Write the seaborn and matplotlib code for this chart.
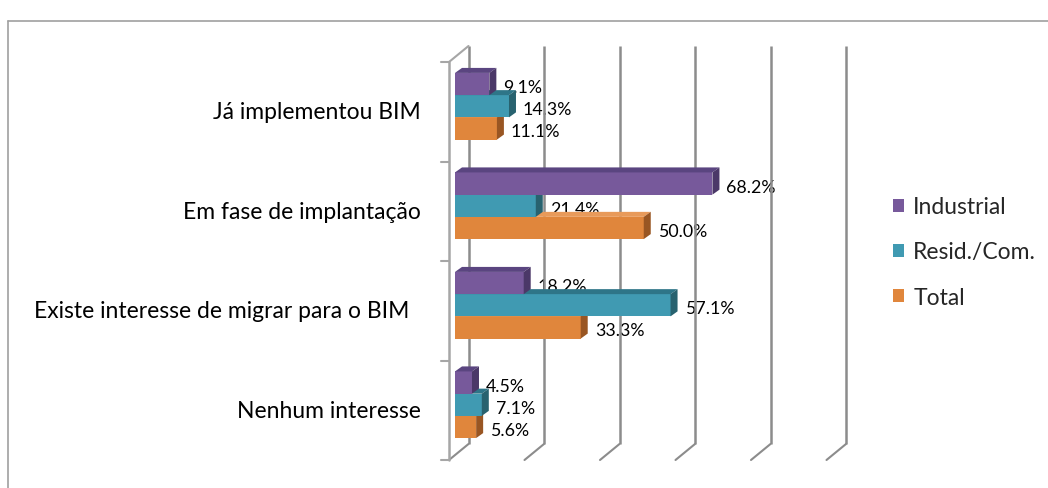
import numpy as np
import pandas as pd
import matplotlib
matplotlib.use("Agg")
import matplotlib.pyplot as plt
import seaborn as sns
from matplotlib.patches import Polygon, Patch
from matplotlib.lines import Line2D
from matplotlib import transforms

# ---- data -------------------------------------------------------------
categories = ["Já implementou BIM", "Em fase de implantação",
              "Existe interesse de migrar para o BIM", "Nenhum interesse"]
series = ["Industrial", "Resid./Com.", "Total"]
industrial = [9.1, 68.2, 18.2, 4.5]
resid_com = [14.3, 21.4, 57.1, 7.1]
total = [11.1, 50.0, 33.3, 5.6]
grid_ticks = [0, 20, 40, 60, 80, 100]

# ---- styling ----------------------------------------------------------
front_colors = ["#77599B", "#409AB2", "#E0863C"]
top_colors = ["#5A4580", "#2E7588", "#E89A5A"]
side_colors = ["#4B3868", "#28626F", "#995623"]
grid_color = "#8C8C8C"
wall_color = "#A6A6A6"

df = pd.DataFrame({
    "categoria": categories * len(series),
    "serie": np.repeat(series, len(categories)),
    "valor": industrial + resid_com + total,
})

sns.set_theme(style="white")
plt.rcParams["font.family"] = ["Lato", "DejaVu Sans"]

W, H = 1048, 489
fig = plt.figure(figsize=(W / 100, H / 100), dpi=100)
x0_px, x100_px = 455.0, 832.5
ytop_px, ybot_px = 57.5, 455.5
ax = fig.add_axes([x0_px / W, 1 - ybot_px / H,
                   (x100_px - x0_px) / W, (ybot_px - ytop_px) / H])

sns.barplot(data=df, y="categoria", x="valor", hue="serie",
            order=categories, hue_order=series, palette=front_colors,
            saturation=1, width=0.67, orient="h", errorbar=None,
            legend=False, ax=ax)

ax.set_xlim(0, 100)
ax.set_ylim(len(categories) - 0.5, -0.5)
ax.set_xticks([])
ax.set_yticks([])
ax.set_xlabel("")
ax.set_ylabel("")
ax.patch.set_alpha(0)
for s in ax.spines.values():
    s.set_visible(False)

# pixel -> data unit conversion
ux = 100.0 / (x100_px - x0_px)
uy = len(categories) / (ybot_px - ytop_px)

# plane offsets (front wall / back wall) in data units
fdx, fdy = -6 * ux, 5.5 * uy
bdx, bdy = 13.5 * ux, -10.5 * uy
ylo, yhi = -0.5, len(categories) - 0.5

# back-wall gridlines with floor diagonals
for g in grid_ticks:
    ax.plot([g + bdx, g + bdx], [ylo + bdy, yhi + bdy], color=grid_color,
            lw=1.8, clip_on=False, zorder=1, solid_capstyle="butt")
    ax.plot([g + bdx, g + fdx], [yhi + bdy, yhi + fdy], color=grid_color,
            lw=1.5, clip_on=False, zorder=1)

# left wall: front edge, top diagonal and category ticks
ax.plot([fdx, fdx], [ylo + fdy, yhi + fdy], color=wall_color, lw=1.8,
        clip_on=False, zorder=1)
ax.plot([fdx, bdx], [ylo + fdy, ylo + bdy], color=wall_color, lw=1.5,
        clip_on=False, zorder=1)
for k in range(len(categories) + 1):
    ax.plot([fdx - 8 * ux, fdx], [ylo + k + fdy] * 2, color=wall_color,
            lw=1.5, clip_on=False, zorder=1)

# 3D faces on every bar + value labels
ddx, ddy = 7 * ux, 5 * uy
for i, cont in enumerate(ax.containers):
    z = 3 + (len(series) - i) * 0.1
    for bar in cont:
        x, y = bar.get_x(), bar.get_y()
        w, h = bar.get_width(), bar.get_height()
        bar.set_zorder(z)
        bar.set_edgecolor("none")
        top = Polygon([(x, y), (x + ddx, y - ddy), (x + w + ddx, y - ddy),
                       (x + w, y)], closed=True, facecolor=top_colors[i],
                      edgecolor="none", zorder=z, clip_on=False)
        side = Polygon([(x + w, y), (x + w + ddx, y - ddy),
                        (x + w + ddx, y + h - ddy), (x + w, y + h)],
                       closed=True, facecolor=side_colors[i],
                       edgecolor="none", zorder=z, clip_on=False)
        ax.add_patch(top)
        ax.add_patch(side)
        ax.annotate(f"{w:.1f}%", xy=(w, y + h / 2), xytext=(14, -3),
                    textcoords="offset pixels", ha="left", va="center",
                    fontsize=12.8, color="black", zorder=0.5,
                    annotation_clip=False)

# category labels
label_shift = {2: -12}
for k, cat in enumerate(categories):
    tr = transforms.offset_copy(ax.transData, fig=fig,
                                x=-34 + label_shift.get(k, 0), y=-5.5,
                                units="dots")
    ax.text(0, k, cat, transform=tr, ha="right", va="center",
            fontsize=16.5, color="black")

# legend
handles = [Patch(facecolor=c, edgecolor="none") for c in front_colors]
fig.legend(handles, series, loc="center left",
           bbox_to_anchor=(893 / W, 1 - 253 / H), frameon=False,
           fontsize=16.5, handlelength=0.48, handleheight=0.48,
           handletextpad=0.4, labelspacing=1.05, borderpad=0,
           borderaxespad=0)

# chart-area border
fig.add_artist(Line2D([8 / W, 1], [1 - 22 / H] * 2, color="#A0A0A0", lw=1.2))
fig.add_artist(Line2D([8 / W] * 2, [0, 1 - 22 / H], color="#A0A0A0", lw=1.2))

fig.savefig("out.png", dpi=100)
